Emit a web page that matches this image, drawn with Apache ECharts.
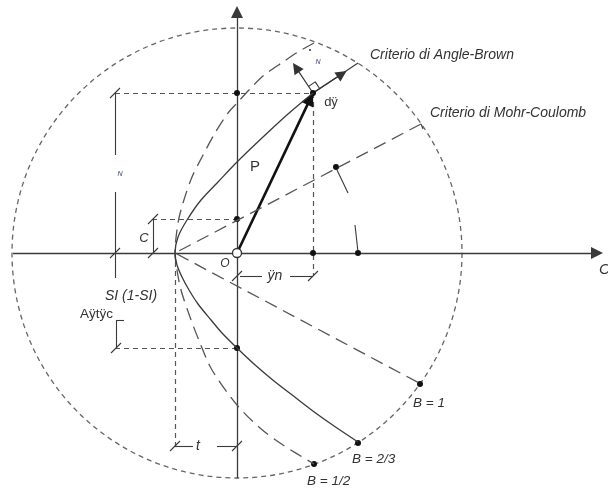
<!DOCTYPE html>
<html><head><meta charset="utf-8">
<script src="https://cdn.jsdelivr.net/npm/echarts@6/dist/echarts.min.js"></script>
<style>html,body{margin:0;padding:0;background:#fff}#c{width:608px;height:489px}</style>
</head><body><div id="c"></div>
<script>
// ===== Data (diagram units, origin at O, y upwards) =====
const xRange = [-237, 371];
const yRange = [-236, 253];
const envelope = [[0, 0, 225]];                      // centre x, centre y, radius
const curveB23 = [[76,160],[51,139],[26,116],[0,91],[-19,71],[-36,53],[-50,33],[-59,16],[-62,0],
                  [-60,-12],[-55,-24],[-48,-37],[-39,-51],[-26,-67],[-15,-80],[0,-95],[17,-111],[37,-128],[59,-145],[80,-161],[100,-175],[121,-189]];
const curveB12 = [[77,210],[61,201],[46,191],[26,177],[13,164],[0,150],[-9,140],[-22,120],[-35,96],[-45,76],[-54,50],[-59,30],[-62,0],
                  [-60,-17],[-56,-37],[-47,-64],[-37,-90],[-25,-117],[0,-152],[23,-175],[46,-192],[77,-211]];
const lineB1 = [[184,129],[-62,0],[184,-131]];
const axisSigma = [[-224,0],[366,0]];
const axisTau = [[0,-225],[0,247]];
const origin = [0,0];
const pointP = [76,160];
const normalEnd = [56,190];
const tangentEnd = [121,190];
const tangentArrowAt = [105,179];
const dotsAxis = [[76,0],[121,0],[0,160],[0,34],[0,-95],[99,86],[76,160]];
const smallDot = [[73,203]];
const dotsB = [[183,-131],[121,-190],[77,-211]];
const bLabels = ['B = 1', 'B = 2/3', 'B = 1/2'];
const guideLines = [
  [[-122,160],[76,160]],
  [[76,160],[76,-23]],
  [[-85,34],[0,34]],
  [[-122,-95],[0,-95]],
  [[-62,0],[-62,-194]]
];
const dimLines = [
  [[-122,160],[-122,98]], [[-122,61],[-122,-25]],
  [[-84,34],[-84,0]],
  [[-121,-67],[-121,-95]], [[-121,-67],[-113,-67]],
  [[3,-23],[25,-23]], [[53,-23],[75,-23]],
  [[-62,-193],[-44,-193]], [[-20,-193],[0,-193]],
  [[100,83],[111,60]], [[118,28],[121,1]],
  [[184,129],[186,124]]
];
const dimTicks = [[-122,160],[-122,0],[-84,34],[-84,0],[-121,-95],[0,-23],[76,-23],[-62,-193],[0,-193]];

// text annotations: [text, x, y]
const annotations = [
  ['Criterio di Angle-Brown', 133, 198],
  ['Criterio di Mohr-Coulomb', 193, 140],
  ['dÿ', 94, 151],
  ['P', 18, 86],
  ['N', 81, 191],
  ['N', -117, 79],
  ['C', -93, 15],
  ['O', -12, -11],
  ['SI (1-SI)', -106, -43],
  ['Aÿtÿc', -124, -61],
  ['ÿn', 38, -23],
  ['t', -39, -193],
  ['C', 362, -17]
];
const bLabelPos = [[176,-150],[115,-206],[70,-228]];

// ===== Styles =====
const FONT = '"Liberation Sans", Arial, sans-serif';
const annStyle = [
  {font:'italic 14px ' + FONT, align:'left'},
  {font:'italic 14px ' + FONT, align:'left'},
  {font:'13px ' + FONT, align:'center'},
  {font:'15px ' + FONT, align:'center'},
  {font:'italic 7px ' + FONT, align:'center', fill:'#3a4470'},
  {font:'italic 7px ' + FONT, align:'center', fill:'#3a4470'},
  {font:'italic 13px ' + FONT, align:'center'},
  {font:'italic 12px ' + FONT, align:'center'},
  {font:'italic 14px ' + FONT, align:'center'},
  {font:'13.5px ' + FONT, align:'right'},
  {font:'italic 14px ' + FONT, align:'center'},
  {font:'italic 14px ' + FONT, align:'center'},
  {font:'italic 15px ' + FONT, align:'left'}
];

function unit(a, b){ const dx=b[0]-a[0], dy=b[1]-a[1], l=Math.hypot(dx,dy); return [dx/l, dy/l]; }
// arrow segment whose triangle head (centred on the end point) has its tip at `tip`
function arrowSeg(from, tip, headLen){ const u = unit(from, tip); return [from, [tip[0]-u[0]*headLen/2, tip[1]-u[1]*headLen/2]]; }

// right-angle marker built from the two arrow directions
const nU = unit(pointP, normalEnd), tU = unit(pointP, tangentEnd), sq = 8;
const rightAngle = [
  [pointP[0]+nU[0]*sq, pointP[1]+nU[1]*sq],
  [pointP[0]+nU[0]*sq+tU[0]*sq, pointP[1]+nU[1]*sq+tU[1]*sq],
  [pointP[0]+tU[0]*sq, pointP[1]+tU[1]*sq]
];
const T = 5;
const tickSegs = dimTicks.map(p => [[p[0]-T, p[1]-T], [p[0]+T, p[1]+T]]);

const chart = echarts.init(document.getElementById('c'), null, {renderer:'canvas'});
const segs = arr => arr.map(c => ({coords: c}));

chart.setOption({
  animation: false,
  backgroundColor: '#fff',
  grid: {left:0, right:0, top:0, bottom:0},
  xAxis: {type:'value', min:xRange[0], max:xRange[1], show:false},
  yAxis: {type:'value', min:yRange[0], max:yRange[1], show:false},
  series: [
    { type:'custom', coordinateSystem:'cartesian2d', silent:true, clip:false, data: envelope,
      renderItem: (params, api) => {
        const c = api.coord([api.value(0), api.value(1)]);
        const r = api.size([api.value(2), 0])[0];
        return {type:'circle', shape:{cx:c[0], cy:c[1], r:r},
                style:{fill:null, stroke:'#666', lineWidth:1.3, lineDash:[5,4]}};
      } },
    { type:'lines', coordinateSystem:'cartesian2d', silent:true, data: segs(guideLines),
      lineStyle:{color:'#555', width:1.2, type:[5,4], opacity:1} },
    { type:'line', data: curveB12, smooth:0.3, showSymbol:false, silent:true,
      lineStyle:{color:'#555', width:1.3, type:[13,7]} },
    { type:'line', data: lineB1, showSymbol:false, silent:true,
      lineStyle:{color:'#555', width:1.3, type:[13,7]} },
    { type:'line', data: curveB23, smooth:0.3, showSymbol:false, silent:true,
      lineStyle:{color:'#3a3a3a', width:1.3} },
    { type:'lines', coordinateSystem:'cartesian2d', silent:true,
      data: segs(dimLines.concat(tickSegs)).concat([{coords:[pointP, tangentEnd]}]),
      lineStyle:{color:'#3a3a3a', width:1.1, opacity:1} },
    { type:'line', data: rightAngle, showSymbol:false, silent:true,
      lineStyle:{color:'#333', width:1.1} },
    { type:'lines', coordinateSystem:'cartesian2d', silent:true,
      symbol:['none','triangle'], symbolSize:[8,12],
      data: segs([arrowSeg(axisSigma[0], axisSigma[1], 12), arrowSeg(axisTau[0], axisTau[1], 12)]),
      lineStyle:{color:'#3a3a3a', width:1.3, opacity:1}, itemStyle:{color:'#222'} },
    { type:'lines', coordinateSystem:'cartesian2d', silent:true,
      symbol:['none','triangle'], symbolSize:[7,11],
      data: segs([arrowSeg(pointP, normalEnd, 11), [pointP, tangentArrowAt]]),
      lineStyle:{color:'#333', width:1.2, opacity:1} },
    { type:'scatter', data: dotsAxis, symbolSize:6, symbol:'circle', silent:true, itemStyle:{color:'#111', opacity:1} },
    { type:'scatter', data: smallDot, symbolSize:2, symbol:'circle', silent:true, itemStyle:{color:'#333', opacity:1} },
    { type:'scatter', data: dotsB, symbolSize:6, symbol:'circle', silent:true, itemStyle:{color:'#111', opacity:1} },
    { type:'lines', coordinateSystem:'cartesian2d', silent:true,
      symbol:['none','triangle'], symbolSize:[8,13],
      data: segs([arrowSeg(origin, pointP, 13)]),
      lineStyle:{color:'#111', width:2.6, opacity:1}, z:3 },
    { type:'scatter', data: [origin], symbolSize:9, symbol:'circle', silent:true, z:4,
      itemStyle:{color:'#fff', borderColor:'#333', borderWidth:1.3, opacity:1} },
    { type:'custom', coordinateSystem:'cartesian2d', silent:true, clip:false,
      data: annotations.map((a,i)=>[a[1], a[2], i]),
      renderItem: (params, api) => {
        const i = api.value(2), c = api.coord([api.value(0), api.value(1)]), s = annStyle[i];
        return {type:'text', x:c[0], y:c[1],
          style:{text: annotations[i][0], font: s.font, fill: s.fill || '#333',
                 align: s.align, textAlign: s.align, verticalAlign:'middle', textVerticalAlign:'middle'}};
      } },
    { type:'custom', coordinateSystem:'cartesian2d', silent:true, clip:false,
      data: bLabelPos.map((p,i)=>[p[0], p[1], i]),
      renderItem: (params, api) => {
        const i = api.value(2), c = api.coord([api.value(0), api.value(1)]);
        return {type:'text', x:c[0], y:c[1],
          style:{text: bLabels[i], font:'italic 13.5px ' + FONT, fill:'#333',
                 align:'left', textAlign:'left', verticalAlign:'middle', textVerticalAlign:'middle'}};
      } }
  ]
});
</script></body></html>
